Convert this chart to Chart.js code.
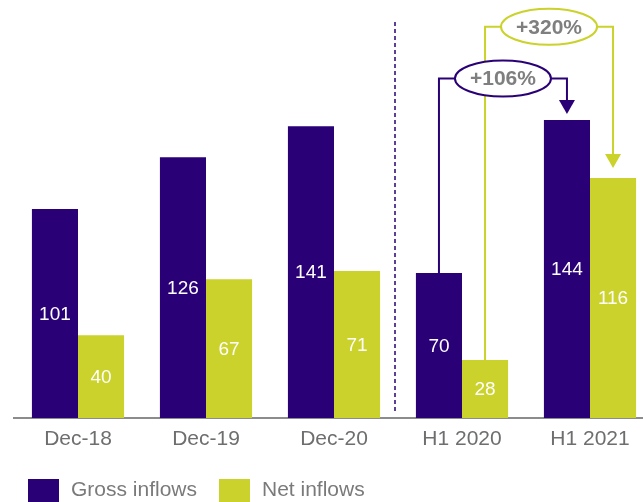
<!DOCTYPE html>
<html>
<head>
<meta charset="utf-8">
<style>
  html, body { margin: 0; padding: 0; background: #ffffff; overflow: hidden; }
  #wrap { width: 660px; height: 502px; }
</style>
<script src="https://cdn.jsdelivr.net/npm/chart.js@4/dist/chart.umd.min.js"></script>
</head>
<body>
<div id="wrap"><canvas id="chart" width="660" height="502"></canvas></div>
<script>
// Inflows by period (billions)
const categories = ['Dec-18', 'Dec-19', 'Dec-20', 'H1 2020', 'H1 2021'];
const grossInflows = [101, 126, 141, 70, 144];
const netInflows = [40, 67, 71, 28, 116];
const seriesNames = ['Gross inflows', 'Net inflows'];
const growthTexts = ['+106%', '+320%'];

const PURPLE = '#2a0077';
const LIME = '#cad22b';
const FONT = '"Liberation Sans", Arial, sans-serif';

// Values in bars, the half-year growth callouts, the period divider and the legend
const decorations = {
  id: 'decorations',
  afterDatasetsDraw(chart) {
    const ctx = chart.ctx;
    const y = chart.scales.y;
    const x = chart.scales.x;

    // value labels centred in each bar
    ctx.save();
    ctx.font = '19px ' + FONT;
    ctx.fillStyle = '#ffffff';
    ctx.textAlign = 'center';
    ctx.textBaseline = 'middle';
    chart.data.datasets.forEach((ds, di) => {
      chart.getDatasetMeta(di).data.forEach((bar, i) => {
        const v = ds.data[i];
        const base = y.getPixelForValue(0);
        ctx.fillText(String(v), bar.x, (bar.y + base) / 2 + 1);
      });
    });
    ctx.restore();

    // dashed divider between full years and half years
    const xd = (x.getPixelForValue(2) + x.getPixelForValue(3)) / 2 - 3;
    ctx.save();
    ctx.strokeStyle = PURPLE;
    ctx.lineWidth = 1.5;
    ctx.setLineDash([4, 3]);
    ctx.beginPath();
    ctx.moveTo(xd, 22);
    ctx.lineTo(xd, chart.chartArea.bottom - 6);
    ctx.stroke();
    ctx.restore();

    // growth callouts: net first so the gross one sits on top
    const callouts = [
      { ds: 1, text: growthTexts[1], level: 189, color: LIME, gap: 10 },
      { ds: 0, text: growthTexts[0], level: 164, color: PURPLE, gap: 6 }
    ];
    callouts.forEach(c => {
      const meta = chart.getDatasetMeta(c.ds);
      const a = meta.data[3];
      const b = meta.data[4];
      const ly = y.getPixelForValue(c.level);
      const tip = b.y - c.gap;
      const head = 14;
      ctx.save();
      ctx.strokeStyle = c.color;
      ctx.fillStyle = c.color;
      ctx.lineWidth = 2;
      ctx.beginPath();
      ctx.moveTo(a.x, a.y);
      ctx.lineTo(a.x, ly);
      ctx.lineTo(b.x, ly);
      ctx.lineTo(b.x, tip - head + 1);
      ctx.stroke();
      ctx.beginPath();
      ctx.moveTo(b.x - 8, tip - head);
      ctx.lineTo(b.x + 8, tip - head);
      ctx.lineTo(b.x, tip);
      ctx.closePath();
      ctx.fill();
      const cx = (a.x + b.x) / 2;
      ctx.beginPath();
      ctx.ellipse(cx, ly, 48, 18, 0, 0, Math.PI * 2);
      ctx.fillStyle = '#ffffff';
      ctx.fill();
      ctx.stroke();
      ctx.fillStyle = '#7f7f7f';
      ctx.font = 'bold 21px ' + FONT;
      ctx.textAlign = 'center';
      ctx.textBaseline = 'middle';
      ctx.fillText(c.text, cx, ly + 1);
      ctx.restore();
    });

    // legend
    ctx.save();
    ctx.font = '21px ' + FONT;
    ctx.textBaseline = 'middle';
    ctx.textAlign = 'left';
    const items = [{ x: 28 }, { x: 219 }];
    chart.data.datasets.forEach((ds, di) => {
      const lx = items[di].x;
      ctx.fillStyle = ds.backgroundColor;
      ctx.fillRect(lx, 479, 31, 23);
      ctx.fillStyle = '#7a7a7a';
      ctx.fillText(ds.label, lx + 43, 490);
    });
    ctx.restore();
  }
};

new Chart(document.getElementById('chart'), {
  type: 'bar',
  data: {
    labels: categories,
    datasets: [
      { label: seriesNames[0], data: grossInflows, backgroundColor: PURPLE },
      { label: seriesNames[1], data: netInflows, backgroundColor: LIME }
    ]
  },
  options: {
    responsive: false,
    animation: false,
    layout: { padding: { left: 14, right: 6, top: 4, bottom: 0 } },
    datasets: { bar: { categoryPercentage: 0.72, barPercentage: 1.0 } },
    plugins: { legend: { display: false }, tooltip: { enabled: false } },
    scales: {
      x: {
        grid: { display: false, drawTicks: false },
        border: { display: true, color: '#8c8c8c', width: 2 },
        ticks: { color: '#6e6e6e', font: { family: FONT, size: 21 }, padding: 9 },
        afterFit(scale) { scale.height = 84; }
      },
      y: { display: false, min: 0, max: 200 }
    }
  },
  plugins: [decorations]
});
</script>
</body>
</html>
